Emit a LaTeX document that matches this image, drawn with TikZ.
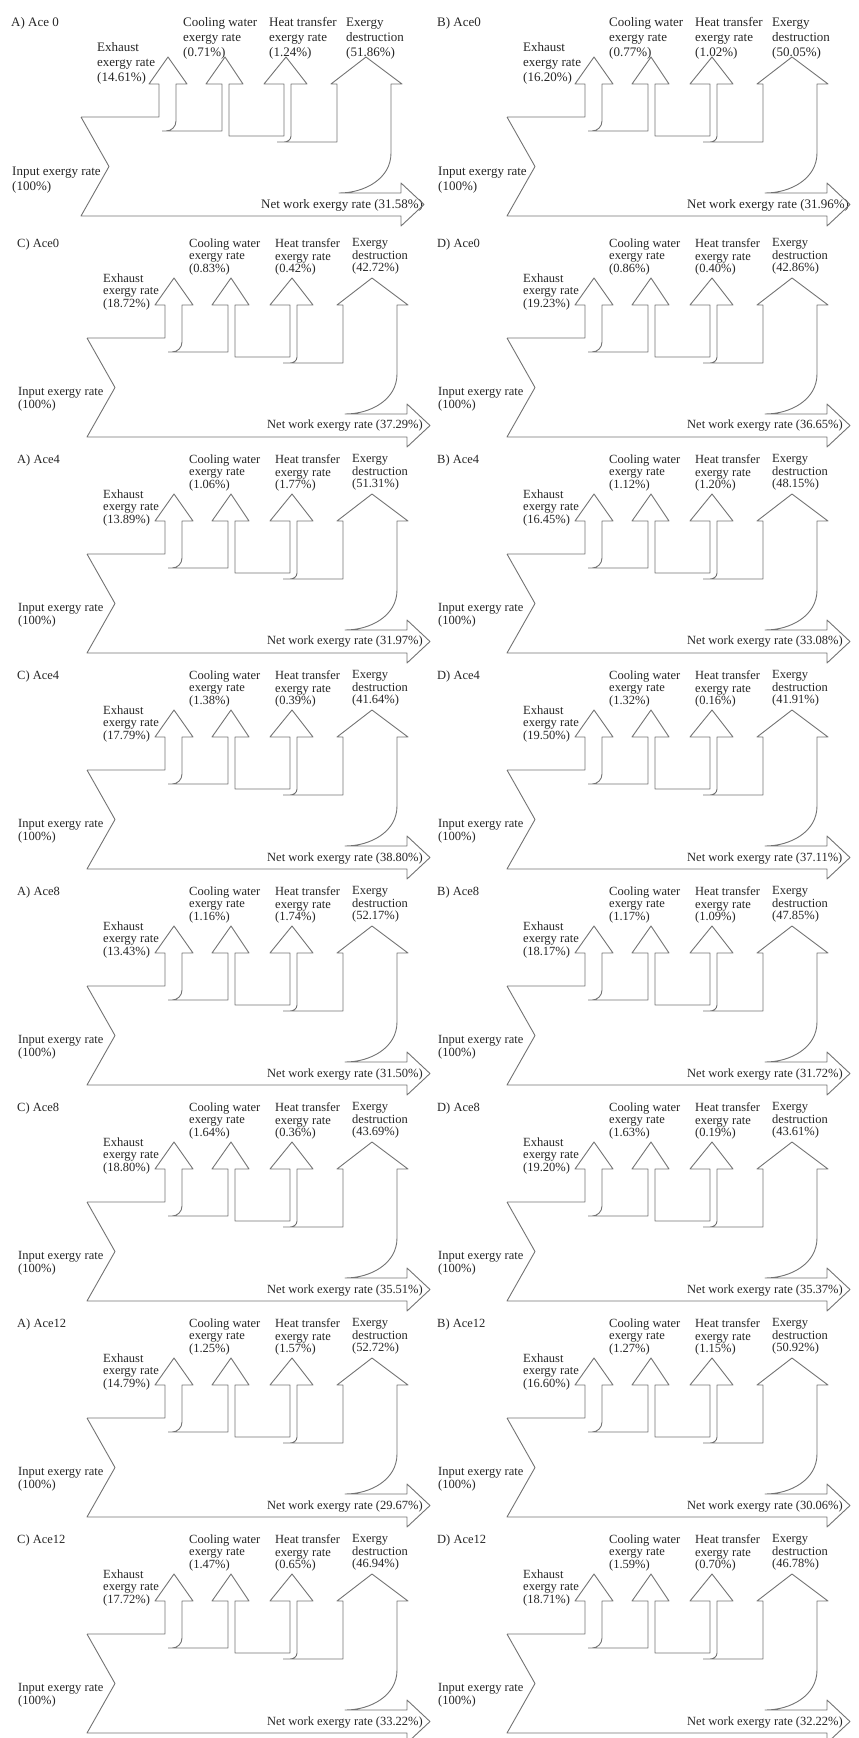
\documentclass[tikz,border=0pt]{standalone}
\usepackage{fontspec}
\setmainfont{Liberation Serif}

% one exergy flow panel: id, x, y, title, exhaust, cooling, heat, destruction, net work
\newcommand{\exergypanel}[9]{%
  \begin{scope}[shift={(#2,#3)}]
    % labels
    \node[ttl]   (#1-ttl) at (17,0)      {#4};
    \node[lbl]   (#1-cw)  at (189,-5.5)  {Cooling water\\exergy rate\\(#6\%)};
    \node[lbl]   (#1-ht)  at (275,-5.5)  {Heat transfer\\exergy rate\\(#7\%)};
    \node[lbl]   (#1-ed)  at (352,-5.5)  {Exergy\\destruction\\(#8\%)};
    \node[exlbl] (#1-ex)  at (103,29.5)  {Exhaust\\exergy rate\\(#5\%)};
    \node[lbl]   (#1-in)  at (18,143.5)  {Input exergy rate\\(100\%)};
    \node[lbl, anchor=west] (#1-nw) at (267,182) {Net work exergy rate (#9\%)};
    % flow outline
    \draw[flow] (87,94) -- (165,94) -- (165,61) -- (155,61) -- (174,34) -- (193,61)
      -- (182,61) -- (182,98) to[out=-90,in=0] (172,108) -- (168,108)
      (168,108) -- (228,108) -- (228,61) -- (212,61) -- (231,34) -- (249,61)
      -- (235,61) -- (235,113) -- (290,113) -- (290,61) -- (270,61) -- (292,34)
      -- (313,61) -- (297,61) -- (297,113) to[out=-90,in=0] (290,119) -- (283,119)
      (283,119) -- (343,119) -- (343,61) -- (337,61) -- (372,34) -- (408,61)
      -- (397,61) -- (397,130) to[out=-90,in=0] (345,170) -- (407,170)
      -- (407,160) -- (430,181.5) -- (407,203) -- (407,193) -- (87,193)
      -- (115,143.5) -- (87,94);
  \end{scope}}

\begin{document}
\begin{tikzpicture}[
  x=1pt, y=-1pt,
  flow/.style={draw=black!55, line width=0.9pt, line join=round},
  lbl/.style={font=\fontsize{12.5}{12.5}\selectfont, align=left,
              anchor=north west, inner sep=0pt, text=black!85},
  exlbl/.style={lbl},
  ttl/.style={lbl, anchor=west},
]
\useasboundingbox (0,0) rectangle (859,1738);

% Row 1
\begin{scope}[lbl/.append style={font=\fontsize{13}{15}\selectfont},
              exlbl/.append style={yshift=10pt}]
  \exergypanel{p1}{-6}{23}{A) Ace 0}{14.61}{0.71}{1.24}{51.86}{31.58}
  \exergypanel{p2}{420}{23}{B) Ace0}{16.20}{0.77}{1.02}{50.05}{31.96}
\end{scope}

% Rows 2-8
\exergypanel{p3}{0}{244}{C) Ace0}{18.72}{0.83}{0.42}{42.72}{37.29}
\exergypanel{p4}{420}{244}{D) Ace0}{19.23}{0.86}{0.40}{42.86}{36.65}

\exergypanel{p5}{0}{460}{A) Ace4}{13.89}{1.06}{1.77}{51.31}{31.97}
\exergypanel{p6}{420}{460}{B) Ace4}{16.45}{1.12}{1.20}{48.15}{33.08}

\exergypanel{p7}{0}{676}{C) Ace4}{17.79}{1.38}{0.39}{41.64}{38.80}
\exergypanel{p8}{420}{676}{D) Ace4}{19.50}{1.32}{0.16}{41.91}{37.11}

\exergypanel{p9}{0}{892}{A) Ace8}{13.43}{1.16}{1.74}{52.17}{31.50}
\exergypanel{p10}{420}{892}{B) Ace8}{18.17}{1.17}{1.09}{47.85}{31.72}

\exergypanel{p11}{0}{1108}{C) Ace8}{18.80}{1.64}{0.36}{43.69}{35.51}
\exergypanel{p12}{420}{1108}{D) Ace8}{19.20}{1.63}{0.19}{43.61}{35.37}

\exergypanel{p13}{0}{1324}{A) Ace12}{14.79}{1.25}{1.57}{52.72}{29.67}
\exergypanel{p14}{420}{1324}{B) Ace12}{16.60}{1.27}{1.15}{50.92}{30.06}

\exergypanel{p15}{0}{1540}{C) Ace12}{17.72}{1.47}{0.65}{46.94}{33.22}
\exergypanel{p16}{420}{1540}{D) Ace12}{18.71}{1.59}{0.70}{46.78}{32.22}
\end{tikzpicture}
\end{document}
